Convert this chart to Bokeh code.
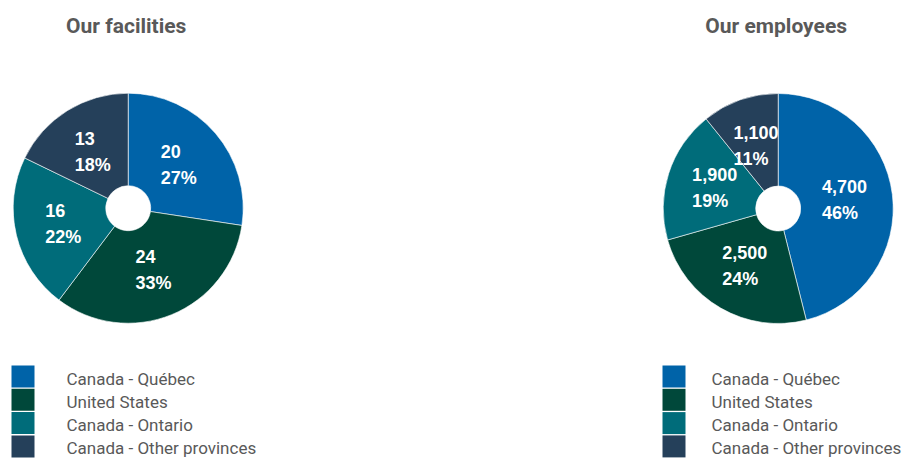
import math
from bokeh.plotting import figure
from bokeh.models import Range1d, ColumnDataSource
from bokeh.core.properties import value
from bokeh.embed import file_html
from bokeh.resources import INLINE

# ---- data ----
categories = ["Canada - Québec", "United States", "Canada - Ontario", "Canada - Other provinces"]
colors = ["#0063A8", "#00483A", "#006C7A", "#25405A"]
facilities = [20, 24, 16, 13]
facility_pct = [27, 33, 22, 18]
employees = [4700, 2500, 1900, 1100]
employee_pct = [46, 24, 19, 11]
titles = ["Our facilities", "Our employees"]

W, H = 913, 458
p = figure(width=W, height=H, output_backend="svg", toolbar_location=None,
           x_range=Range1d(0, W), y_range=Range1d(0, H), min_border=0)
p.axis.visible = False
p.grid.visible = False
p.outline_line_color = None
p.background_fill_color = "white"

GRAY = "#595959"
LABEL_FONT = "Liberation Sans"
SIDE_FONT = "Roboto"

def py(page_y):
    return H - page_y

CW = {"0": .556, "1": .556, "2": .556, "3": .556, "4": .556, "5": .556, "6": .556,
      "7": .556, "8": .556, "9": .556, ",": .278, "%": .889}

def text_w(s, size):
    return sum(CW.get(c, .556) for c in s) * size

def pie(cx, cy, vals, pcts, title, legend_x, sq_x):
    total = float(sum(vals))
    R, r_in = 115, 22.5
    starts, ends, lx, ly, ltxt = [], [], [], [], []
    cum = 0.0
    for v, pc in zip(vals, pcts):
        a0 = math.pi / 2 - 2 * math.pi * (cum + v) / total
        a1 = math.pi / 2 - 2 * math.pi * cum / total
        starts.append(a0)
        ends.append(a1)
        mid = (a0 + a1) / 2
        l1 = f"{v:,}"
        l2 = f"{pc}%"
        w = max(text_w(l1, 18), text_w(l2, 18))
        rl = 0.58 * R
        lx.append(cx + rl * math.cos(mid) - w / 2)
        ly.append(cy + rl * math.sin(mid))
        ltxt.append(l1 + "\n" + l2)
        cum += v
    src = ColumnDataSource(dict(start=starts, end=ends, color=colors))
    p.annular_wedge(x=cx, y=cy, inner_radius=r_in, outer_radius=R,
                    start_angle="start", end_angle="end", color="color",
                    line_color="white", line_width=0.6, source=src)
    p.text(x=lx, y=ly, text=ltxt, text_color="white", text_font=value(LABEL_FONT),
           text_font_style="bold", text_font_size="18px", text_align="left",
           text_baseline="middle", text_line_height=1.3)
    # title
    p.text(x=[cx - 2], y=[py(25)], text=[title], text_color=GRAY,
           text_font=value(SIDE_FONT), text_font_style="bold", text_font_size="21px",
           text_align="center", text_baseline="middle")
    # legend
    rows_y = [py(376 + 23.3 * i) for i in range(len(categories))]
    p.rect(x=[sq_x] * len(categories), y=rows_y, width=23, height=22,
           fill_color=colors, line_color=None)
    p.text(x=[legend_x] * len(categories), y=[y - 2 for y in rows_y], text=categories,
           text_color=GRAY, text_font=value(SIDE_FONT), text_font_size="17px",
           text_align="left", text_baseline="middle")

pie(127.7, py(207.7), facilities, facility_pct, titles[0], 66, 22.5)
pie(777.7, py(208), employees, employee_pct, titles[1], 711, 673.5)

open("out.html", "w").write(file_html(p, INLINE))
